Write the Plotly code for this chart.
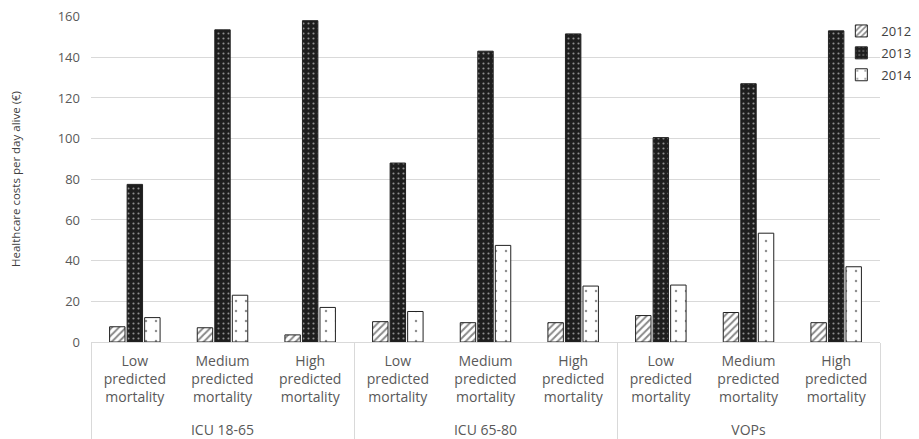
import plotly.graph_objects as go

group_names = ["ICU 18-65", "ICU 65-80", "VOPs"]
subcat_names = ["Low<br>predicted<br>mortality", "Medium<br>predicted<br>mortality", "High<br>predicted<br>mortality"]
years = ["2012", "2013", "2014"]
v2012 = [7.5, 7, 3.5, 10, 9.5, 9.5, 13, 14.5, 9.5]
v2013 = [77.5, 153.5, 158, 88, 143, 151.5, 100.5, 127, 153]
v2014 = [12, 23, 17, 15, 47.5, 27.5, 28, 53.5, 37]
y_ticks = [0, 20, 40, 60, 80, 100, 120, 140, 160]

groups = ["<br>" + g for g in group_names for _ in subcat_names]
subcats = subcat_names * len(group_names)

styles = {
    "2012": dict(color="white", pattern=dict(shape="/", fgcolor="#111111", bgcolor="white", size=5, solidity=0.4)),
    "2013": dict(color="#1e1e1e", pattern=dict(shape=".", fgcolor="white", bgcolor="#1e1e1e", size=5, solidity=0.15)),
    "2014": dict(color="white", pattern=dict(shape=".", fgcolor="#222222", bgcolor="white", size=10, solidity=0.05)),
}

fig = go.Figure()
for yr, vals in zip(years, [v2012, v2013, v2014]):
    st = styles[yr]
    fig.add_trace(go.Bar(
        name=yr, x=[groups, subcats], y=vals, legendgroup=yr,
        marker=dict(color=st["color"], pattern=st["pattern"], line=dict(color="#222222", width=1)),
    ))

fig.update_layout(
    width=911, height=431,
    margin=dict(l=83, r=39, t=8, b=97, autoexpand=False),
    paper_bgcolor="white", plot_bgcolor="white",
    barmode="group", bargap=0.4, bargroupgap=0.12,
    font=dict(family="Open Sans, Liberation Sans, sans-serif", size=11, color="#595959"),
    legend=dict(x=0.951, xanchor="left", y=1.0, yanchor="top", bgcolor="rgba(0,0,0,0)",
                font=dict(size=13, color="#404040"), itemwidth=30, tracegroupgap=2),
    showlegend=True,
)
fig.update_yaxes(
    range=[0, 160.3], tickvals=y_ticks, showgrid=True, gridcolor="#d9d9d9", gridwidth=1,
    zeroline=False, showline=False, ticks="", tickfont=dict(size=13, color="#595959"),
    automargin=False, ticklabelstandoff=10, ticklabeloverflow="allow",
    title=dict(text="Healthcare costs per day alive (€)", font=dict(size=11.5, color="#404040"), standoff=40),
)
fig.update_xaxes(
    type="multicategory", showline=True, linecolor="#d9d9d9", linewidth=1,
    showdividers=True, dividercolor="#d9d9d9", dividerwidth=1, automargin=False,
    tickfont=dict(size=14, color="#595959"), ticks="", ticklabelstandoff=6,
)
fig.write_html("out.html")
